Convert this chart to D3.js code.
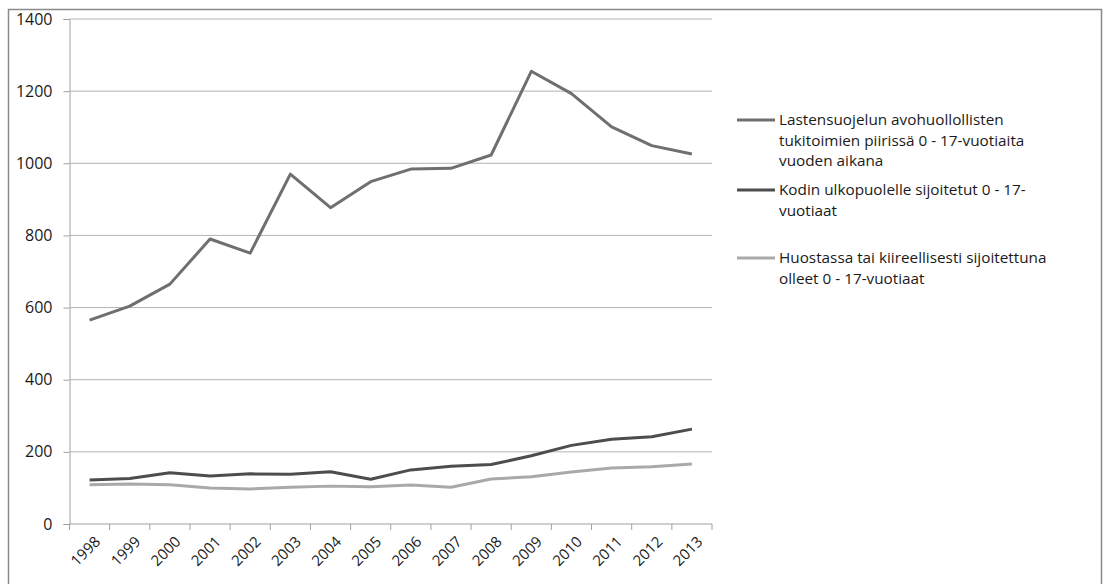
<!DOCTYPE html>
<html>
<head>
<meta charset="utf-8">
<script src="https://cdn.jsdelivr.net/npm/d3@7"></script>
<style>
  body { margin: 0; background: #fff; }
  svg text { font-family: "Open Sans", sans-serif; fill: #1a1a1a; }
</style>
</head>
<body>
<div id="chart"></div>
<script>

// years on the x axis
var years = ["1998", "1999", "2000", "2001", "2002", "2003", "2004", "2005",
    "2006", "2007", "2008", "2009", "2010", "2011", "2012", "2013"];

// series values
var avohuolto = [565, 604, 665, 790, 751, 970, 877, 949, 984, 986, 1023, 1255, 1193, 1101, 1049, 1026];
var sijoitetut = [122, 126, 142, 133, 139, 138, 145, 124, 150, 160, 165, 189, 218, 235, 242, 263];
var huostassa = [109, 111, 109, 100, 97, 102, 105, 103, 108, 102, 125, 131, 144, 155, 159, 166];

var seriesNames = [
    ["Lastensuojelun avohuollollisten", "tukitoimien piirissä 0 - 17-vuotiaita", "vuoden aikana"],
    ["Kodin ulkopuolelle sijoitetut 0 - 17-", "vuotiaat"],
    ["Huostassa tai kiireellisesti sijoitettuna", "olleet 0 - 17-vuotiaat"]
];
var seriesColors = ["#6f6f6f", "#4d4d4d", "#a9a9a9"];

var yTicks = [0, 200, 400, 600, 800, 1000, 1200, 1400];

var W = 1106, H = 584;
var margin = { top: 19, left: 69.5, right: 394, bottom: 60 },
    w = W - margin.left - margin.right,
    h = H - margin.top - margin.bottom;

var svg = d3.select('#chart')
    .append('svg')
    .attr('width', W)
    .attr('height', H);

// outer frame
svg.append('rect')
    .attr('x', 8.5).attr('y', 9.5)
    .attr('width', 1093).attr('height', 600)
    .attr('fill', 'none')
    .attr('stroke', '#8a8a8a')
    .attr('stroke-width', 1.5);

var g = svg.append('g')
    .attr('transform', `translate(${margin.left},${margin.top})`);

var x = d3.scaleBand()
    .domain(years)
    .range([0, w]);

var y = d3.scaleLinear()
    .domain([0, 1400])
    .range([h, 0]);

// gridlines
g.append('g')
    .selectAll('line')
    .data(yTicks.slice(1))
    .enter().append('line')
    .attr('x1', 0).attr('x2', w)
    .attr('y1', d => y(d)).attr('y2', d => y(d))
    .attr('stroke', '#b4b4b4')
    .attr('stroke-width', 1);

// y axis
var yAxis = d3.axisLeft(y).tickValues(yTicks).tickFormat(d3.format('d')).tickSize(6).tickPadding(11);
var yg = g.append('g').call(yAxis);
yg.select('.domain').attr('stroke', '#a0a0a0');
yg.selectAll('.tick line').attr('stroke', '#a0a0a0');
yg.selectAll('.tick text').attr('font-size', '16px').attr('fill', '#1a1a1a');

// x axis, ticks between categories
var xg = g.append('g')
    .attr('transform', `translate(0,${h})`);
xg.append('line')
    .attr('x1', 0).attr('x2', w)
    .attr('stroke', '#a0a0a0');
xg.selectAll('line.tk')
    .data(years.concat(['end']))
    .enter().append('line')
    .attr('class', 'tk')
    .attr('x1', (d, i) => i * x.bandwidth())
    .attr('x2', (d, i) => i * x.bandwidth())
    .attr('y1', 0).attr('y2', 6)
    .attr('stroke', '#a0a0a0');
xg.selectAll('text')
    .data(years)
    .enter().append('text')
    .attr('transform', d => `translate(${x(d) + x.bandwidth() / 2 + 8},${15}) rotate(-45)`)
    .attr('text-anchor', 'end')
    .attr('dy', '0.35em')
    .attr('font-size', '15px')
    .text(d => d);

// lines
var allSeries = [avohuolto, sijoitetut, huostassa];
var line = d3.line()
    .x((d, i) => x(years[i]) + x.bandwidth() / 2)
    .y(d => y(d));

g.selectAll('path.series')
    .data(allSeries)
    .enter().append('path')
    .attr('class', 'series')
    .attr('d', line)
    .attr('fill', 'none')
    .attr('stroke', (d, i) => seriesColors[i])
    .attr('stroke-width', 3)
    .attr('stroke-linejoin', 'round');

// legend
var legendY = [120, 190, 258];
var legend = svg.append('g');
var items = legend.selectAll('g')
    .data(seriesNames)
    .enter().append('g')
    .attr('transform', (d, i) => `translate(737,${legendY[i]})`);
items.append('line')
    .attr('x1', 0).attr('x2', 38)
    .attr('stroke', (d, i) => seriesColors[i])
    .attr('stroke-width', 3);
items.append('text')
    .attr('x', 42)
    .attr('font-size', '15.3px')
    .selectAll('tspan')
    .data(d => d)
    .enter().append('tspan')
    .attr('x', 42)
    .attr('y', (d, i) => i * 20.5)
    .attr('dy', '0.35em')
    .text(d => d);

</script>
</body>
</html>
